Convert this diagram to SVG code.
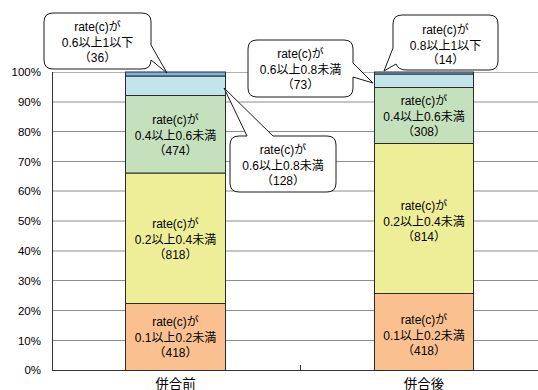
<svg xmlns="http://www.w3.org/2000/svg" width="538" height="390" viewBox="0 0 538 390">
<style>
text{font-family:"Liberation Sans","Noto Sans CJK JP",sans-serif;fill:#000}
.ax{font-size:11.5px;text-anchor:end}
.lb{font-size:12px;text-anchor:middle}
.cat{font-size:13.5px;text-anchor:middle}
.grid{stroke:#8c8c8c;stroke-width:1}
.bar{stroke:#2b2b2b;stroke-width:1}
.call{fill:#fff;stroke:#1a1a1a;stroke-width:1}
</style>
<rect width="538" height="390" fill="#fff"/>
<g id="axes">
<g class="grid">
<line x1="52" y1="72.5" x2="538" y2="72.5" stroke="#b0b0b0"/>
<line x1="52" y1="102" x2="538" y2="102"/>
<line x1="52" y1="131.5" x2="538" y2="131.5"/>
<line x1="52" y1="161.5" x2="538" y2="161.5"/>
<line x1="52" y1="191" x2="538" y2="191"/>
<line x1="52" y1="221" x2="538" y2="221"/>
<line x1="52" y1="251" x2="538" y2="251"/>
<line x1="52" y1="280.5" x2="538" y2="280.5"/>
<line x1="52" y1="310.5" x2="538" y2="310.5"/>
<line x1="52" y1="340.5" x2="538" y2="340.5"/>
</g>
<line x1="52.5" y1="72" x2="52.5" y2="370" stroke="#333"/>
<line x1="52" y1="370.5" x2="538" y2="370.5" stroke="#333"/>
<line x1="300.5" y1="365" x2="300.5" y2="370" stroke="#333"/>
<text class="ax" x="41" y="76">100%</text>
<text class="ax" x="41" y="106">90%</text>
<text class="ax" x="41" y="135.5">80%</text>
<text class="ax" x="41" y="165.5">70%</text>
<text class="ax" x="41" y="195">60%</text>
<text class="ax" x="41" y="225">50%</text>
<text class="ax" x="41" y="255">40%</text>
<text class="ax" x="41" y="284.5">30%</text>
<text class="ax" x="41" y="314.5">20%</text>
<text class="ax" x="41" y="344.5">10%</text>
<text class="ax" x="41" y="374">0%</text>
<text class="cat" x="175.5" y="388.5">併合前</text>
<text class="cat" x="424" y="388.5">併合後</text>
</g>
<g id="bar-before">
<rect class="bar" x="125.5" y="303.5" width="100" height="67" fill="#FAC090"/>
<rect class="bar" x="125.5" y="173" width="100" height="130.5" fill="#EEEE99"/>
<rect class="bar" x="125.5" y="95.5" width="100" height="77.5" fill="#C4E0BD"/>
<rect class="bar" x="125.5" y="76" width="100" height="19.5" fill="#C2E5EB"/>
<rect class="bar" x="125.5" y="72" width="100" height="4" fill="#7EB4E2"/>
<text class="lb" x="175.5" y="124">rate(c)が</text>
<text class="lb" x="175.5" y="140">0.4以上0.6未満</text>
<text class="lb" x="175.5" y="155">（474）</text>
<text class="lb" x="175.5" y="228">rate(c)が</text>
<text class="lb" x="175.5" y="244">0.2以上0.4未満</text>
<text class="lb" x="175.5" y="259">（818）</text>
<text class="lb" x="175.5" y="325.5">rate(c)が</text>
<text class="lb" x="175.5" y="341.5">0.1以上0.2未満</text>
<text class="lb" x="175.5" y="356.5">（418）</text>
</g>
<g id="bar-after">
<rect class="bar" x="374.5" y="293.5" width="99" height="77" fill="#FAC090"/>
<rect class="bar" x="374.5" y="143.5" width="99" height="150" fill="#EEEE99"/>
<rect class="bar" x="374.5" y="87.5" width="99" height="56" fill="#C4E0BD"/>
<rect class="bar" x="374.5" y="74" width="99" height="13.5" fill="#C2E5EB"/>
<rect class="bar" x="374.5" y="72" width="99" height="2" fill="#7EB4E2"/>
<text class="lb" x="424" y="104.5">rate(c)が</text>
<text class="lb" x="424" y="120.5">0.4以上0.6未満</text>
<text class="lb" x="424" y="135.5">（308）</text>
<text class="lb" x="424" y="210">rate(c)が</text>
<text class="lb" x="424" y="226">0.2以上0.4未満</text>
<text class="lb" x="424" y="241">（814）</text>
<text class="lb" x="424" y="323.5">rate(c)が</text>
<text class="lb" x="424" y="339.5">0.1以上0.2未満</text>
<text class="lb" x="424" y="354.5">（418）</text>
</g>
<g id="callouts">
<g id="callout-36">
<path class="call" d="M53,13 H142 Q151,13 151,22 V45 L167,73 L151,60 Q151,69 142,69 H53 Q44,69 44,60 V22 Q44,13 53,13 Z"/>
<text class="lb" x="97.5" y="31">rate(c)が</text>
<text class="lb" x="97.5" y="47">0.6以上1以下</text>
<text class="lb" x="97.5" y="62">（36）</text>
</g>
<g id="callout-128">
<path class="call" d="M239,136 H247 L224,88 L273,136 H327 Q336,136 336,145 V183 Q336,192 327,192 H239 Q230,192 230,183 V145 Q230,136 239,136 Z"/>
<text class="lb" x="283" y="154">rate(c)が</text>
<text class="lb" x="283" y="170">0.6以上0.8未満</text>
<text class="lb" x="283" y="185">（128）</text>
</g>
<g id="callout-73">
<path class="call" d="M257,40 H344 Q353,40 353,49 V63 L373,83 L353,77 V88 Q353,97 344,97 H257 Q248,97 248,88 V49 Q248,40 257,40 Z"/>
<text class="lb" x="300.5" y="57.5">rate(c)が</text>
<text class="lb" x="300.5" y="73.5">0.6以上0.8未満</text>
<text class="lb" x="300.5" y="88.5">（73）</text>
</g>
<g id="callout-14">
<path class="call" d="M402,15 H489 Q498,15 498,24 V61 Q498,70 489,70 H407 Q398,70 396,64 L384,71 L393,48 V24 Q393,15 402,15 Z"/>
<text class="lb" x="445.5" y="34">rate(c)が</text>
<text class="lb" x="445.5" y="50">0.8以上1以下</text>
<text class="lb" x="445.5" y="64">（14）</text>
</g>
</g>
</svg>
